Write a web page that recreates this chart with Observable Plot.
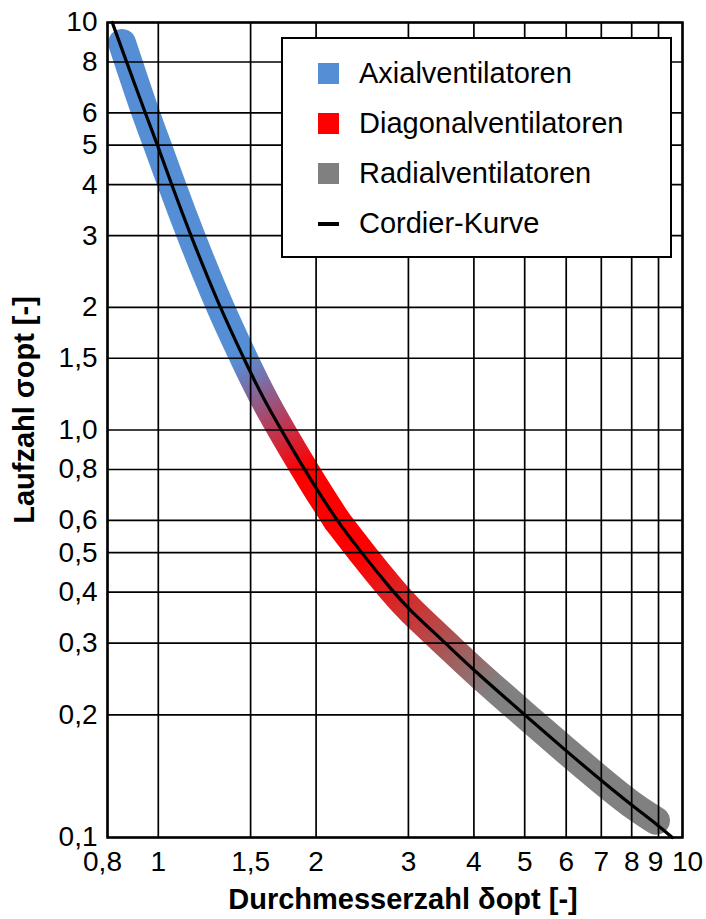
<!DOCTYPE html>
<html>
<head>
<meta charset="utf-8">
<script src="https://cdn.jsdelivr.net/npm/d3@7"></script>
<script src="https://cdn.jsdelivr.net/npm/@observablehq/plot@0.6"></script>
<style>
html,body{margin:0;padding:0;background:#fff;}
#wrap{position:relative;width:706px;height:919px;font-family:"Liberation Sans",Arial,sans-serif;}
#legend{position:absolute;left:281px;top:37px;width:391px;height:221px;box-sizing:border-box;border:2px solid #000;background:#fff;}
.item{position:absolute;left:35px;height:30px;display:flex;align-items:center;font-size:29px;color:#000;white-space:nowrap;}
.sym{width:21px;height:21px;margin-right:20px;flex:none;}
.sym.line{height:4px;}
</style>
</head>
<body>
<div id="wrap"></div>
<script>
// ---- axis ticks ----
const xTicks = [0.8, 1, 1.5, 2, 3, 4, 5, 6, 7, 8, 9, 10];
const xTickLabels = ["0,8", "1", "1,5", "2", "3", "4", "5", "6", "7", "8", "9", "10"];
const yTicks = [0.1, 0.2, 0.3, 0.4, 0.5, 0.6, 0.8, 1, 1.5, 2, 3, 4, 5, 6, 8, 10];
const yTickLabels = ["0,1", "0,2", "0,3", "0,4", "0,5", "0,6", "0,8", "1,0", "1,5", "2", "3", "4", "5", "6", "8", "10"];

// ---- Cordier curve ----
const cordierDelta = [0.817, 0.870, 0.944, 0.997, 1.06, 1.153, 1.31, 1.456, 1.59, 1.9, 2.0, 2.19, 2.44, 2.81, 3.0, 3.53, 4.0, 5.0, 6.0, 7.0, 8.0, 9.0, 9.56];
const cordierSigma = [10, 8, 6, 5, 4, 3, 2, 1.5, 1.18, 0.8, 0.72, 0.6, 0.5, 0.4, 0.364, 0.3, 0.257, 0.2, 0.163, 0.138, 0.12, 0.107, 0.1];

// ---- fan-type band ----
const bandDelta = [0.853, 0.944, 0.997, 1.06, 1.153, 1.31, 1.456, 1.59, 1.9, 2.0, 2.19, 2.44, 2.81, 3.0, 3.53, 4.0, 5.0, 6.0, 7.0, 8.0, 8.9];
const bandSigma = [8.9, 6, 5, 4, 3, 2, 1.5, 1.18, 0.8, 0.72, 0.6, 0.5, 0.4, 0.364, 0.3, 0.257, 0.2, 0.163, 0.138, 0.12, 0.11];
const bandSplit = 2.19;

// ---- categories ----
const fanTypes = ["Axialventilatoren", "Diagonalventilatoren", "Radialventilatoren"];
const fanColors = ["#558ed5", "#ff0000", "#808080"];
const curveLabel = "Cordier-Kurve";
// colour blends along the band (data coords: start, end)
const blendAxialDiagonal = [[1.456, 1.5], [1.9, 0.8]];
const blendDiagonalRadial = [[2.44, 0.5], [4.4, 0.232]];

const xTitleParts = ["Durchmesserzahl δ", "opt", " [-]"];
const yTitleParts = ["Laufzahl σ", "opt", " [-]"];

const cordier = cordierDelta.map((d, i) => ({delta: d, sigma: cordierSigma[i]}));
const band = bandDelta.map((d, i) => ({delta: d, sigma: bandSigma[i]}));
const bandA = band.filter(d => d.delta <= bandSplit);
const bandB = band.filter(d => d.delta >= bandSplit);

const bandStyle = {x: "delta", y: "sigma", strokeWidth: 28, strokeLinecap: "round", strokeLinejoin: "round", curve: "basis"};

// small horizontal nudges of a few crowded x tick labels (style only)
const xLabelNudge = {"0,8": -5, "9": -3, "10": 5};
const xLabelGroups = d3.groups(xTicks.map((d, i) => ({v: d, label: xTickLabels[i]})), d => xLabelNudge[d.label] || 0);
const xLabelMarks = xLabelGroups.map(([dx, items]) =>
  Plot.text(items, {x: "v", text: "label", frameAnchor: "bottom", lineAnchor: "top", textAnchor: "middle", dy: 14, dx, fontSize: 28, fill: "#000"}));

const chart = Plot.plot({
  width: 706, height: 919,
  marginLeft: 107, marginRight: 24, marginTop: 22, marginBottom: 82,
  style: {fontFamily: '"Liberation Sans", Arial, sans-serif', fontSize: "28px", color: "#000", background: "#fff"},
  x: {type: "log", domain: [0.8, 10], axis: null},
  y: {type: "log", domain: [0.1, 10], axis: null},
  marks: [
    Plot.line(bandA, {...bandStyle, stroke: "url(#gradAD)"}),
    Plot.line(bandB, {...bandStyle, stroke: "url(#gradDR)"}),
    Plot.ruleX(xTicks, {stroke: "#000", strokeWidth: 1.7}),
    Plot.ruleY(yTicks, {stroke: "#000", strokeWidth: 1.7}),
    Plot.line(cordier, {x: "delta", y: "sigma", stroke: "#000", strokeWidth: 3.2, curve: "basis"}),
    Plot.frame({stroke: "#000", strokeWidth: 2.5}),
    // tick labels
    ...xLabelMarks,
    Plot.text(yTicks, {y: d => d, text: (d, i) => yTickLabels[i], frameAnchor: "left", lineAnchor: "middle", textAnchor: "end", dx: -10, fontSize: 28, fill: "#000"}),
    // axis titles
    Plot.text([0], {frameAnchor: "bottom", text: () => xTitleParts.join(""), textAnchor: "middle", dx: 8, dy: 62, fontWeight: "bold", fontSize: 29, lineAnchor: "middle", fill: "#000", ariaLabel: "x-title"}),
    Plot.text([0], {frameAnchor: "left", text: () => yTitleParts.join(""), textAnchor: "middle", rotate: -90, dx: -83, dy: -20, fontWeight: "bold", fontSize: 29, lineAnchor: "middle", fill: "#000", ariaLabel: "y-title"})
  ]
});

// gradients positioned with the chart's own scales
const xs = chart.scale("x"), ys = chart.scale("y");
const defs = d3.select(chart).insert("defs", ":first-child");
function addGrad(id, seg, c0, c1) {
  const g = defs.append("linearGradient").attr("id", id).attr("gradientUnits", "userSpaceOnUse")
    .attr("x1", xs.apply(seg[0][0])).attr("y1", ys.apply(seg[0][1]))
    .attr("x2", xs.apply(seg[1][0])).attr("y2", ys.apply(seg[1][1]));
  g.append("stop").attr("offset", 0).attr("stop-color", c0);
  g.append("stop").attr("offset", 1).attr("stop-color", c1);
}
addGrad("gradAD", blendAxialDiagonal, fanColors[0], fanColors[1]);
addGrad("gradDR", blendDiagonalRadial, fanColors[1], fanColors[2]);

// subscripts in axis titles
function subscriptify(label, parts) {
  const t = d3.select(chart).select(`g[aria-label="${label}"] text`);
  t.text(null);
  t.append("tspan").text(parts[0]);
  t.append("tspan").attr("font-size", 20).attr("dy", 6).text(parts[1]);
  t.append("tspan").attr("dy", -6).text(parts[2]);
}
subscriptify("x-title", xTitleParts);
subscriptify("y-title", yTitleParts);

const wrap = document.getElementById("wrap");
wrap.appendChild(chart);

// legend overlay
const legend = document.createElement("div");
legend.id = "legend";
const entries = fanTypes.map((t, i) => ({label: t, color: fanColors[i], kind: "box"}))
  .concat([{label: curveLabel, color: "#000", kind: "line"}]);
entries.forEach((e, i) => {
  const it = document.createElement("div");
  it.className = "item";
  it.style.top = (34 + i * 50.3 - 15) + "px";
  const s = document.createElement("span");
  s.className = "sym" + (e.kind === "line" ? " line" : "");
  s.style.background = e.color;
  it.appendChild(s);
  const tx = document.createElement("span");
  tx.textContent = e.label;
  it.appendChild(tx);
  legend.appendChild(it);
});
wrap.appendChild(legend);
</script>
</body>
</html>
